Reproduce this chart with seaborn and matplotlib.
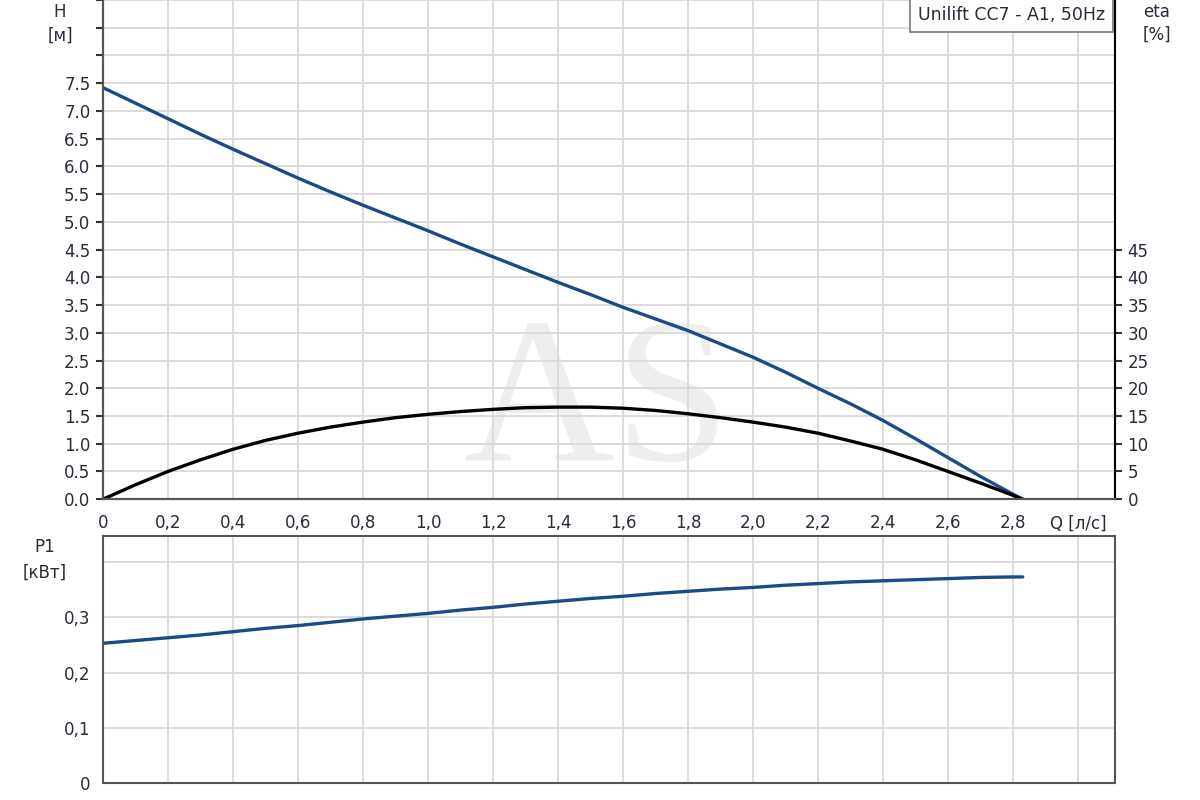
import seaborn as sns
import matplotlib.pyplot as plt
import pandas as pd
import numpy as np

sns.set_style("white")
plt.rcParams["font.family"] = ["DejaVu Sans"]

# Flow Q [l/s] sample points
q = [0.0, 0.1, 0.2, 0.3, 0.4, 0.5, 0.6, 0.7, 0.8, 0.9, 1.0, 1.1, 1.2, 1.3, 1.4,
     1.5, 1.6, 1.7, 1.8, 1.9, 2.0, 2.1, 2.2, 2.3, 2.4, 2.5, 2.6, 2.7, 2.8, 2.83]
# Head H [m]
head = [7.42, 7.14, 6.86, 6.58, 6.31, 6.05, 5.79, 5.54, 5.30, 5.07, 4.84, 4.60, 4.37, 4.14, 3.91,
        3.69, 3.46, 3.25, 3.04, 2.80, 2.56, 2.29, 2.00, 1.72, 1.42, 1.09, 0.75, 0.41, 0.09, 0.0]
# Efficiency eta [%]
eta = [0.0, 2.6, 5.0, 7.1, 9.0, 10.6, 11.9, 13.0, 13.9, 14.7, 15.3, 15.8, 16.2, 16.5, 16.6,
       16.6, 16.4, 16.0, 15.4, 14.7, 13.9, 13.0, 11.9, 10.5, 9.0, 7.1, 5.0, 2.9, 0.7, 0.0]
# Power P1 [kW]
p1 = [0.253, 0.258, 0.263, 0.268, 0.274, 0.280, 0.285, 0.291, 0.297, 0.302, 0.307, 0.313, 0.318,
      0.324, 0.329, 0.334, 0.338, 0.343, 0.347, 0.351, 0.354, 0.358, 0.361, 0.364, 0.366, 0.368,
      0.370, 0.372, 0.373, 0.373]

x_ticks = [0, 0.2, 0.4, 0.6, 0.8, 1.0, 1.2, 1.4, 1.6, 1.8, 2.0, 2.2, 2.4, 2.6, 2.8, 3.0]
x_labels = ["0", "0,2", "0,4", "0,6", "0,8", "1,0", "1,2", "1,4", "1,6", "1,8",
            "2,0", "2,2", "2,4", "2,6", "2,8", "Q [л/с]"]
h_labels = ["0.0", "0.5", "1.0", "1.5", "2.0", "2.5", "3.0", "3.5", "4.0",
            "4.5", "5.0", "5.5", "6.0", "6.5", "7.0", "7.5"]
eta_labels = ["0", "5", "10", "15", "20", "25", "30", "35", "40", "45"]
p1_labels = ["0", "0,1", "0,2", "0,3"]

df = pd.DataFrame({"Q": q, "H": head, "eta": eta, "P1": p1})

blue = "#1c4a86"
grid_c = "#d9d9d9"
spine_c = "#555555"
text_c = "#2a2a3a"
fs = 12

fig = plt.figure(figsize=(12, 8), dpi=100)
ax = fig.add_axes([0.0858, 0.376, 0.8434, 0.624])
ax2 = ax.twinx()
axp = fig.add_axes([0.0858, 0.021, 0.8434, 0.309])

xmax = 3.114

# --- top panel: head + efficiency
sns.lineplot(data=df, x="Q", y="H", ax=ax, color=blue, linewidth=2.4, zorder=3)
sns.lineplot(data=df, x="Q", y="eta", ax=ax2, color="black", linewidth=2.4)
ax.set_xlim(0, xmax)
ax.set_ylim(0, 9.0)
ax2.set_ylim(0, 90)
ax.set_xticks(x_ticks)
ax.set_xticklabels(x_labels)
ax.set_yticks(np.arange(0, 9.01, 0.5))
ax.set_yticklabels(h_labels + ["", "", ""])
ax2.set_yticks(np.arange(0, 45.1, 5))
ax2.set_yticklabels(eta_labels)
ax.set_xlabel("")
ax.set_ylabel("")
ax2.set_ylabel("")
ax.grid(True, color=grid_c, linewidth=1.3)
ax.set_axisbelow(True)

# --- bottom panel: power
sns.lineplot(data=df, x="Q", y="P1", ax=axp, color=blue, linewidth=2.4)
axp.set_xlim(0, xmax)
axp.set_ylim(0, 0.447)
axp.set_xticks(x_ticks)
axp.set_xticklabels([])
axp.set_yticks([0, 0.1, 0.2, 0.3, 0.4])
axp.set_yticklabels(p1_labels + [""])
axp.set_xlabel("")
axp.set_ylabel("")
axp.grid(True, color=grid_c, linewidth=1.3)
axp.set_axisbelow(True)

for a in (ax, ax2, axp):
    a.tick_params(axis="both", labelsize=fs, labelcolor=text_c, length=5,
                  width=1.5, color="#333333", direction="out", pad=4)
    a.tick_params(axis="x", length=0, pad=6)
    for s in a.spines.values():
        s.set_color(spine_c)
        s.set_linewidth(1.5)
ax.tick_params(axis="x", length=5)
ax2.spines["right"].set_color("black")
ax.spines["top"].set_visible(False)
ax2.spines["top"].set_visible(False)

# axis titles
fig.text(60 / 1200, 1 - 12 / 800, "H", ha="center", va="center", fontsize=fs, color=text_c)
fig.text(60 / 1200, 1 - 36 / 800, "[м]", ha="center", va="center", fontsize=fs, color=text_c)
fig.text(1157 / 1200, 1 - 12 / 800, "eta", ha="center", va="center", fontsize=fs, color=text_c)
fig.text(1157 / 1200, 1 - 35 / 800, "[%]", ha="center", va="center", fontsize=fs, color=text_c)
fig.text(45 / 1200, 1 - 547 / 800, "P1", ha="center", va="center", fontsize=fs, color=text_c)
fig.text(45 / 1200, 1 - 573 / 800, "[кВт]", ha="center", va="center", fontsize=fs, color=text_c)

# legend box with pump name
ax.text(0.990, 0.970, "Unilift CC7 - A1, 50Hz", transform=ax.transAxes, ha="right", va="center",
        fontsize=12.5, color=text_c, zorder=5,
        bbox=dict(boxstyle="square,pad=0.45", facecolor="white", edgecolor="#777777", linewidth=1.2))

# watermark
ax.text(0.488, 0.18, "AS", transform=ax.transAxes, ha="center", va="center",
        fontsize=150, family="Liberation Serif", color="#eeeeee", zorder=0)

fig.savefig("out.png", dpi=100)
plt.close(fig)
